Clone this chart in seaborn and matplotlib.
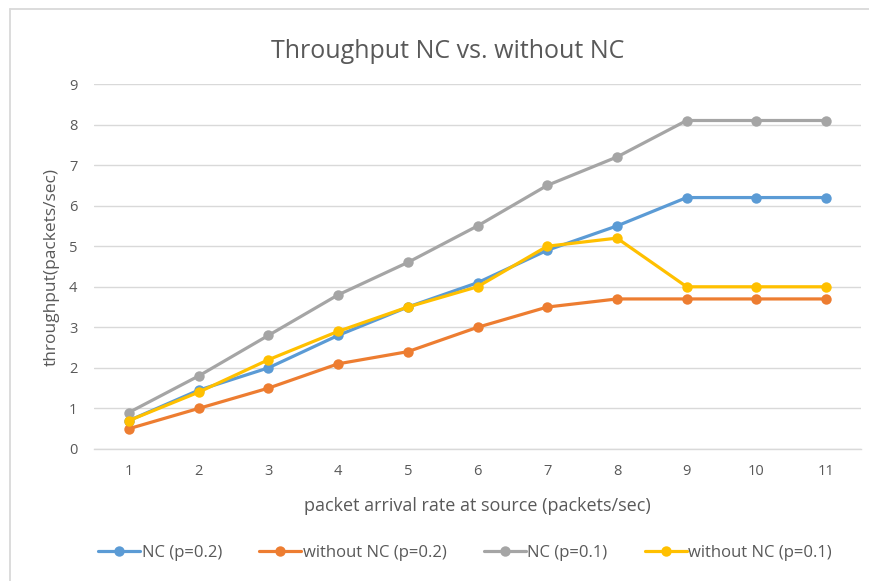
import matplotlib
matplotlib.use("Agg")
import matplotlib.pyplot as plt
from matplotlib.lines import Line2D
import seaborn as sns
import pandas as pd

# arrival rates (packets/sec)
arrival_rate = [1, 2, 3, 4, 5, 6, 7, 8, 9, 10, 11]

# throughput for each scheme
nc_p02 = [0.7, 1.45, 2.0, 2.8, 3.5, 4.1, 4.9, 5.5, 6.2, 6.2, 6.2]
without_nc_p02 = [0.5, 1.0, 1.5, 2.1, 2.4, 3.0, 3.5, 3.7, 3.7, 3.7, 3.7]
nc_p01 = [0.9, 1.8, 2.8, 3.8, 4.6, 5.5, 6.5, 7.2, 8.1, 8.1, 8.1]
without_nc_p01 = [0.7, 1.4, 2.2, 2.9, 3.5, 4.0, 5.0, 5.2, 4.0, 4.0, 4.0]

series_names = ["NC (p=0.2)", "without NC (p=0.2)", "NC (p=0.1)", "without NC (p=0.1)"]
series_values = [nc_p02, without_nc_p02, nc_p01, without_nc_p01]
series_colors = ["#5B9BD5", "#ED7D31", "#A5A5A5", "#FFC000"]

y_ticks = list(range(0, 10))

sns.set_theme(style="white")
plt.rcParams["font.family"] = ["Open Sans", "DejaVu Sans"]

text_color = "#595959"
W, H = 869, 581
fig = plt.figure(figsize=(W / 100, H / 100), dpi=100)
fig.patch.set_facecolor("white")

left, right, bottom, top = 94, 861, 449, 84
ax = fig.add_axes([left / W, 1 - bottom / H, (right - left) / W, (bottom - top) / H])

frames = []
for name, vals in zip(series_names, series_values):
    frames.append(pd.DataFrame({"rate": arrival_rate, "throughput": vals, "series": name}))
df = pd.concat(frames, ignore_index=True)

for name, color in zip(series_names, series_colors):
    sub = df[df["series"] == name]
    sns.lineplot(data=sub, x="rate", y="throughput", ax=ax, color=color,
                 linewidth=2.3, marker="o", markersize=7.5, markeredgewidth=0,
                 label=name, legend=False)

ax.set_xlim(0.5, 11.5)
ax.set_ylim(0, 9)
ax.set_xticks(arrival_rate)
ax.set_yticks(y_ticks)
ax.set_xticklabels([str(v) for v in arrival_rate])
ax.yaxis.grid(True, color="#D9D9D9", linewidth=1)
ax.xaxis.grid(False)
for s in ["top", "right", "left"]:
    ax.spines[s].set_visible(False)
ax.spines["bottom"].set_color("#D9D9D9")
ax.spines["bottom"].set_linewidth(1)
ax.set_axisbelow(True)
ax.tick_params(axis="both", length=0, labelsize=10.5, colors=text_color)
ax.tick_params(axis="x", pad=10.5)
ax.tick_params(axis="y", pad=12)

ax.set_xlabel("packet arrival rate at source (packets/sec)", fontsize=13, color=text_color)
ax.set_ylabel("throughput(packets/sec)", fontsize=12.5, color=text_color)
ax.xaxis.label.set_va("center")
ax.yaxis.label.set_va("center")
ax.xaxis.set_label_coords(0.5, (bottom - 506) / (bottom - top))
ax.yaxis.set_label_coords((52 - left) / (right - left), 0.5)

fig.text(448 / W, 1 - 51 / H, "Throughput NC vs. without NC", ha="center", va="center",
         fontsize=18, color=text_color)

handles = [Line2D([0], [0], color=c, linewidth=2.3, marker="o", markersize=7.5,
                  markeredgewidth=0) for c in series_colors]
fig.legend(handles, series_names, loc="center", bbox_to_anchor=(465 / W, 1 - 553 / H),
           ncol=4, frameon=False, fontsize=12, labelcolor=text_color,
           handlelength=2.5, handletextpad=0.1, columnspacing=2.25)

# outer chart border (top and left edges)
bx, by = 10 / W, 1 - 9 / H
fig.add_artist(Line2D([bx, 1.0], [by, by], transform=fig.transFigure, color="#D9D9D9", linewidth=1.3))
fig.add_artist(Line2D([bx, bx], [0.0, by], transform=fig.transFigure, color="#D9D9D9", linewidth=1.3))

fig.savefig("out.png", dpi=100, facecolor="white")
